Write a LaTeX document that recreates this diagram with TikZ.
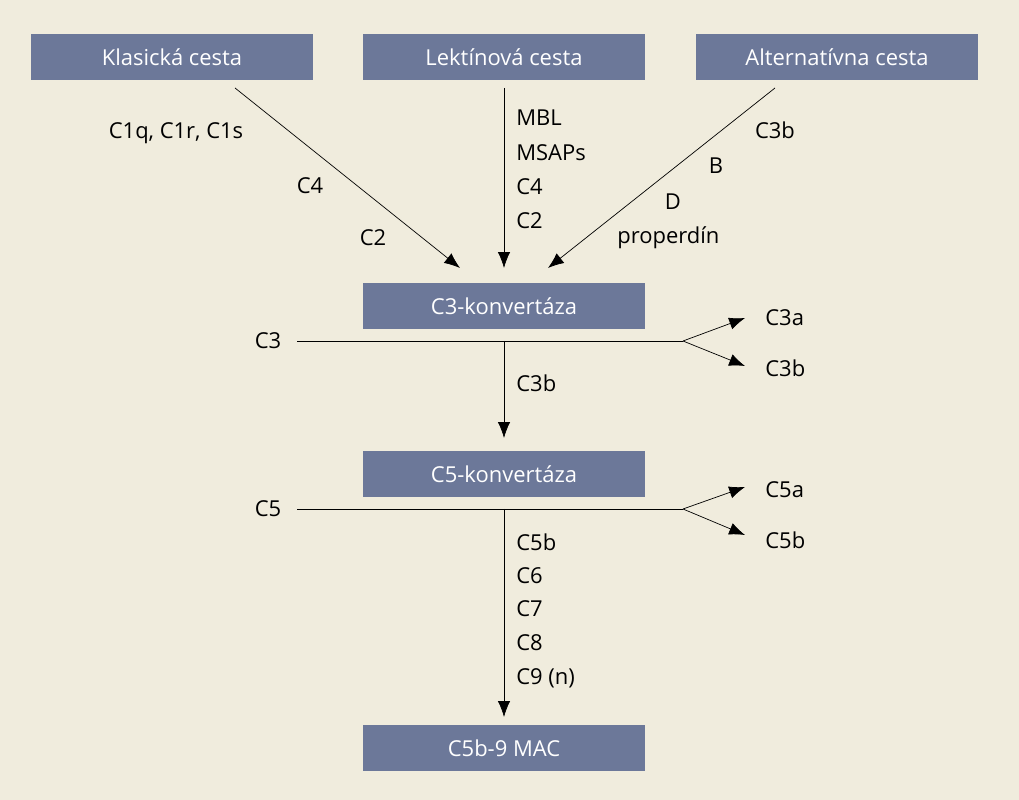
\documentclass[tikz,border=0pt]{standalone}
\usepackage{fontspec}
\setmainfont{Open Sans}
\usetikzlibrary{arrows.meta}
\definecolor{bgbeige}{HTML}{F0ECDD}
\definecolor{boxslate}{HTML}{6C7899}
\tikzset{
  path box/.style={fill=boxslate, text=white, minimum width=5.64cm, minimum height=0.92cm, inner sep=0pt, font=\fontsize{12.5}{15}\selectfont},
  lbl/.style={font=\fontsize{12.5}{15}\selectfont, inner sep=0pt},
  flow/.style={-{Latex[length=9pt,width=7pt]}, thin},
}
\begin{document}
\begin{tikzpicture}[x=0.02cm, y=-0.02cm]
        \fill[bgbeige] (0,0) rectangle (1019,800);
        \useasboundingbox (0,0) rectangle (1019,800);
        % boxes
        \node[path box] (klas)  at (172,57)  {Klasická cesta};
        \node[path box] (lekt)  at (504,57)  {Lektínová cesta};
        \node[path box] (alt)   at (837,57)  {Alternatívna cesta};
        \node[path box] (cthree) at (504,306) {C3-konvertáza};
        \node[path box] (cfive)  at (504,474) {C5-konvertáza};
        \node[path box] (mac)    at (504,748) {C5b-9 MAC};
        % connector ends
        \coordinate (klasS)  at (235,88);
        \coordinate (klasE)  at (460,268);
        \coordinate (lektS)  at (504,88);
        \coordinate (lektE)  at (504,268);
        \coordinate (altS)   at (775,88);
        \coordinate (altE)   at (548,268);
        \coordinate (c3in)   at (297,341);
        \coordinate (c3mid)  at (504,341);
        \coordinate (c3fork) at (683,341);
        \coordinate (c3up)   at (745,318);
        \coordinate (c3dn)   at (745,366);
        \coordinate (c3end)  at (504,438);
        \coordinate (c5in)   at (297,509);
        \coordinate (c5mid)  at (504,509);
        \coordinate (c5fork) at (683,509);
        \coordinate (c5up)   at (745,487);
        \coordinate (c5dn)   at (745,535);
        \coordinate (c5end)  at (504,717);
        \draw[flow] (klasS) -- (klasE);
        \draw[flow] (lektS) -- (lektE);
        \draw[flow] (altS) -- (altE);
        \draw (c3in) -- (c3fork);
        \draw[flow] (c3fork) -- (c3up);
        \draw[flow] (c3fork) -- (c3dn);
        \draw[flow] (c3mid) -- (c3end);
        \draw (c5in) -- (c5fork);
        \draw[flow] (c5fork) -- (c5up);
        \draw[flow] (c5fork) -- (c5dn);
        \draw[flow] (c5mid) -- (c5end);
        % labels
        \node[lbl] (k1) at (176,133) {C1q, C1r, C1s};
        \node[lbl] (k2) at (310,186) {C4};
        \node[lbl] (k3) at (373,238) {C2};
        \foreach \t/\y in {MBL/118, MSAPs/153, C4/187, C2/221}
          \node[lbl, anchor=west] at (516,\y) {\t};
        \node[lbl] (a1) at (775,130) {C3b};
        \node[lbl] (a2) at (716,166) {B};
        \node[lbl] (a3) at (673,202) {D};
        \node[lbl, anchor=west] (a4) at (617,238) {properdín};
        \node[lbl] (l3) at (268,341) {C3};
        \node[lbl, anchor=west] (l3a) at (765,318) {C3a};
        \node[lbl, anchor=west] (l3b) at (765,368) {C3b};
        \node[lbl, anchor=west] (l3v) at (516,383) {C3b};
        \node[lbl] (l5) at (268,509) {C5};
        \node[lbl, anchor=west] (l5a) at (765,490) {C5a};
        \node[lbl, anchor=west] (l5b) at (765,540) {C5b};
        \foreach \t/\y in {C5b/542, C6/576, C7/609, C8/643, C9 (n)/678}
          \node[lbl, anchor=west] at (516,\y) {\t};
\end{tikzpicture}
\end{document}
